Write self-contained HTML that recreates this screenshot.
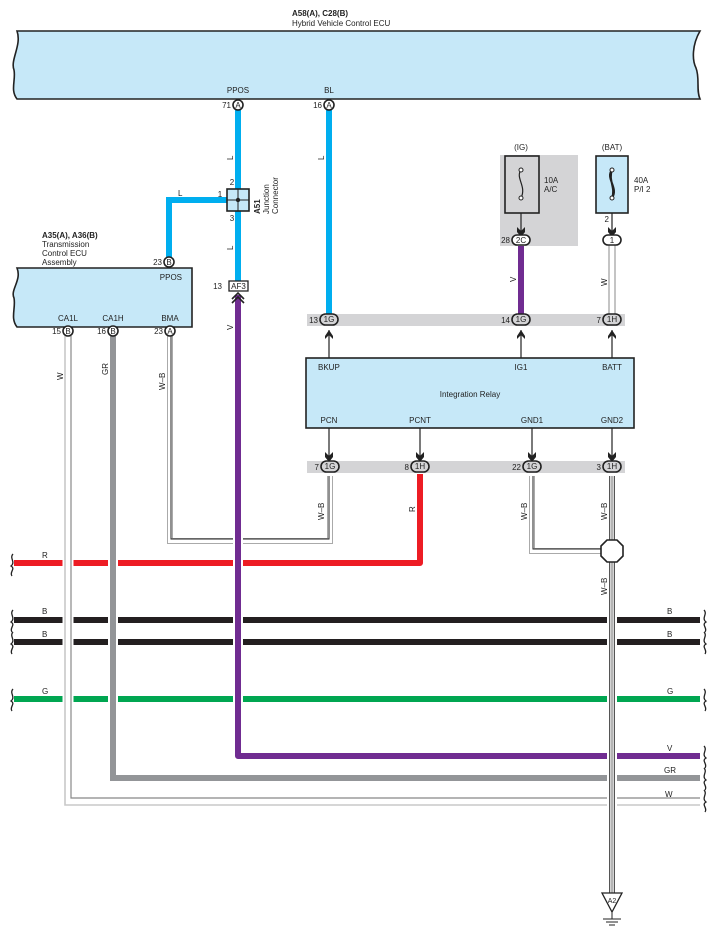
<!DOCTYPE html>
<html><head><meta charset="utf-8"><style>
html,body{margin:0;padding:0;background:#fff}
svg{display:block}
text{font-family:"Liberation Sans",sans-serif;font-size:8px;fill:#222}
.b{font-weight:bold}
</style></head><body>
<svg width="715" height="940" viewBox="0 0 715 940" xmlns="http://www.w3.org/2000/svg">
<!-- top ECU -->
<text x="292" y="16" class="b">A58(A), C28(B)</text>
<text x="292" y="26">Hybrid Vehicle Control ECU</text>
<path d="M17,31 L700,31 C692,45 692,60 696,68 C700,78 696,90 700,99 L17,99 C10,90 16,80 14,70 C10,60 22,45 17,31 Z" fill="#c6e8f8" stroke="#222" stroke-width="1.6"/>
<text x="238" y="93" text-anchor="middle">PPOS</text>
<text x="329" y="93" text-anchor="middle">BL</text>

<!-- transmission ECU -->
<text x="42" y="238" class="b">A35(A), A36(B)</text>
<text x="42" y="247">Transmission</text>
<text x="42" y="256">Control ECU</text>
<text x="42" y="265">Assembly</text>
<path d="M17,268 L192,268 L192,327 L17,327 C10,318 16,308 14,298 C10,290 22,280 17,268 Z" fill="#c6e8f8" stroke="#222" stroke-width="1.6"/>
<text x="182" y="280" text-anchor="end">PPOS</text>
<text x="68" y="321" text-anchor="middle">CA1L</text>
<text x="113" y="321" text-anchor="middle">CA1H</text>
<text x="170" y="321" text-anchor="middle">BMA</text>

<!-- fuses -->
<rect x="500" y="155" width="78" height="91" fill="#d4d4d6"/>
<text x="521" y="150" text-anchor="middle">(IG)</text>
<rect x="505" y="156" width="34" height="57" fill="#d4d4d6" stroke="#222" stroke-width="1.6"/>
<path d="M521,170 C515,178 527,186 521,198" fill="none" stroke="#222" stroke-width="1.2"/>
<circle cx="521" cy="170" r="2" fill="#fff" stroke="#222"/><circle cx="521" cy="198" r="2" fill="#fff" stroke="#222"/>
<text x="544" y="183">10A</text><text x="544" y="192">A/C</text>
<text x="612" y="150" text-anchor="middle">(BAT)</text>
<rect x="596" y="156" width="32" height="57" fill="#c6e8f8" stroke="#222" stroke-width="1.6"/>
<path d="M612,170 C605,178 619,188 612,198 M612,170 C608,180 616,188 612,198" fill="none" stroke="#222" stroke-width="2"/>
<circle cx="612" cy="170" r="2" fill="#fff" stroke="#222"/><circle cx="612" cy="198" r="2" fill="#fff" stroke="#222"/>
<text x="634" y="183">40A</text><text x="634" y="192">P/I 2</text>

<!-- gray connector bars -->
<rect x="307" y="314" width="318" height="12" fill="#d4d4d6"/>
<rect x="307" y="461" width="318" height="12" fill="#d4d4d6"/>

<!-- relay -->
<rect x="306" y="358" width="328" height="70" fill="#c6e8f8" stroke="#222" stroke-width="1.6"/>
<text x="318" y="370">BKUP</text>
<text x="521" y="370" text-anchor="middle">IG1</text>
<text x="612" y="370" text-anchor="middle">BATT</text>
<text x="470" y="397" text-anchor="middle">Integration Relay</text>
<text x="329" y="423" text-anchor="middle">PCN</text>
<text x="420" y="423" text-anchor="middle">PCNT</text>
<text x="532" y="423" text-anchor="middle">GND1</text>
<text x="612" y="423" text-anchor="middle">GND2</text>
<g stroke="#222" stroke-width="1.2">
<line x1="329" y1="330" x2="329" y2="358"/><line x1="521" y1="330" x2="521" y2="358"/><line x1="612" y1="330" x2="612" y2="358"/>
<line x1="329" y1="428" x2="329" y2="458"/><line x1="420" y1="428" x2="420" y2="458"/><line x1="532" y1="428" x2="532" y2="458"/><line x1="612" y1="428" x2="612" y2="458"/>
<line x1="521" y1="213" x2="521" y2="232"/><line x1="612" y1="213" x2="612" y2="232"/>
</g>
<g fill="#222">
<path d="M325,336 L329,330 L333,336 L333,339 L329,335 L325,339Z"/>
<path d="M517,336 L521,330 L525,336 L525,339 L521,335 L517,339Z"/>
<path d="M608,336 L612,330 L616,336 L616,339 L612,335 L608,339Z"/>
<path d="M325,452 L329,456 L333,452 L333,457 L329,462 L325,457Z"/>
<path d="M416,452 L420,456 L424,452 L424,457 L420,462 L416,457Z"/>
<path d="M528,452 L532,456 L536,452 L536,457 L532,462 L528,457Z"/>
<path d="M608,452 L612,456 L616,452 L616,457 L612,462 L608,457Z"/>
<path d="M517,227 L521,231 L525,227 L525,232 L521,237 L517,232Z"/>
<path d="M608,227 L612,231 L616,227 L616,232 L612,237 L608,232Z"/>
</g>

<!-- horizontal wires -->
<g stroke-width="6" fill="none">
<line x1="14" y1="620" x2="700" y2="620" stroke="#231f20"/>
<line x1="14" y1="642" x2="700" y2="642" stroke="#231f20"/>
<line x1="14" y1="699" x2="700" y2="699" stroke="#00a651"/>
<path d="M14,563 L420,563 L420,474" stroke="#ed1c24" stroke-linejoin="round"/>
</g>
<!-- W wire -->
<path d="M68,336 L68,801 L700,801" fill="none" stroke="#fff" stroke-width="11"/>
<path d="M65,336 L65,805 L700,805" fill="none" stroke="#c8c8c8" stroke-width="1.6"/>
<path d="M71,336 L71,798 L700,798" fill="none" stroke="#888" stroke-width="1.2"/>
<!-- GR wire -->
<path d="M113,336 L113,778 L700,778" fill="none" stroke="#fff" stroke-width="10"/>
<path d="M113,336 L113,778 L700,778" fill="none" stroke="#939598" stroke-width="6"/>
<!-- W-B BMA -> PCN -->
<path d="M170,336 L170,541 L330,541 L330,476" fill="none" stroke="#aaa" stroke-width="6"/>
<path d="M170,336 L170,541 L330,541 L330,476" fill="none" stroke="#fff" stroke-width="4"/>
<path d="M171,336 L171,539 L329,539 L329,476" fill="none" stroke="#222" stroke-width="1"/>
<!-- V purple -->
<path d="M238,295 L238,756 L700,756" fill="none" stroke="#fff" stroke-width="10"/>
<path d="M238,295 L238,756 L700,756" fill="none" stroke="#702c91" stroke-width="6" stroke-linejoin="round"/>
<path d="M521,246 L521,314" stroke="#702c91" stroke-width="6"/>
<!-- W BAT -->
<path d="M609,244 L609,314 M615,244 L615,314" stroke="#888" stroke-width="1"/>
<!-- W-B GND1 -->
<path d="M532,476 L532,551 L606,551" fill="none" stroke="#aaa" stroke-width="6"/>
<path d="M532,476 L532,551 L606,551" fill="none" stroke="#fff" stroke-width="4"/>
<path d="M533,476 L533,549 L606,549" fill="none" stroke="#222" stroke-width="1"/>
<!-- W-B GND2 to ground -->
<path d="M612,476 L612,893" fill="none" stroke="#fff" stroke-width="10"/>
<path d="M612,476 L612,893" fill="none" stroke="#555" stroke-width="6"/>
<path d="M612,476 L612,893" fill="none" stroke="#fff" stroke-width="3.5"/>
<path d="M612,476 L612,893" fill="none" stroke="#444" stroke-width="0.8"/>
<!-- splice -->
<path d="M607,540 L617,540 L623,546 L623,556 L617,562 L607,562 L601,556 L601,546Z" fill="#fff" stroke="#222" stroke-width="1.6"/>
<!-- ground -->
<path d="M602,893 L622,893 L612,912Z" fill="#fff" stroke="#222" stroke-width="1.3"/>
<text x="612" y="903" text-anchor="middle" style="font-size:7px">A2</text>
<g stroke="#222" stroke-width="1"><line x1="612" y1="912" x2="612" y2="919"/><line x1="603" y1="919" x2="621" y2="919"/><line x1="606" y1="922" x2="618" y2="922"/><line x1="609" y1="925" x2="615" y2="925"/></g>

<!-- blue wires -->
<path d="M238,110 L238,281 M329,110 L329,314 M227,200 L169,200 L169,257" fill="none" stroke="#00aeef" stroke-width="6"/>
<!-- junction -->
<rect x="227" y="189" width="22" height="22" fill="#c6e8f8" stroke="#222" stroke-width="1.6"/>
<path d="M227,200 L249,200 M238,189 L238,211" stroke="#222" stroke-width="1"/>
<circle cx="238" cy="200" r="2.2" fill="#222"/>
<text x="232" y="185" text-anchor="middle">2</text><text x="220" y="197" text-anchor="middle">1</text><text x="232" y="221" text-anchor="middle">3</text>
<text transform="translate(260,214) rotate(-90)" class="b">A51</text>
<text transform="translate(269,214) rotate(-90)">Junction</text>
<text transform="translate(278,214) rotate(-90)">Connector</text>
<!-- AF3 -->
<rect x="229" y="281" width="19" height="10" fill="#fff" stroke="#222" stroke-width="1.3"/>
<text x="238.5" y="289" text-anchor="middle">AF3</text><text x="222" y="289" text-anchor="end">13</text>
<path d="M232,299 L238,293 L244,299 M232,303 L238,297 L244,303" fill="none" stroke="#222" stroke-width="1.6"/>

<!-- pins -->
<g fill="#fff" stroke="#222" stroke-width="1.6">
<circle cx="238" cy="105" r="5"/><circle cx="329" cy="105" r="5"/>
<circle cx="169" cy="262" r="5"/>
<circle cx="68" cy="331" r="5"/><circle cx="113" cy="331" r="5"/><circle cx="170" cy="331" r="5"/>
<rect x="512" y="235" width="18" height="10" rx="5"/><rect x="603" y="235" width="18" height="10" rx="5"/>
<rect x="320" y="314" width="18" height="11" rx="5.5" fill="#d4d4d6"/><rect x="512" y="314" width="18" height="11" rx="5.5" fill="#d4d4d6"/><rect x="603" y="314" width="18" height="11" rx="5.5" fill="#d4d4d6"/>
<rect x="321" y="461" width="18" height="11" rx="5.5" fill="#d4d4d6"/><rect x="411" y="461" width="18" height="11" rx="5.5" fill="#d4d4d6"/><rect x="523" y="461" width="18" height="11" rx="5.5" fill="#d4d4d6"/><rect x="603" y="461" width="18" height="11" rx="5.5" fill="#d4d4d6"/>
</g>
<g text-anchor="middle" style="font-size:7.5px">
<text x="238" y="108">A</text><text x="329" y="108">A</text><text x="169" y="265">B</text>
<text x="68" y="334">B</text><text x="113" y="334">B</text><text x="170" y="334">A</text>
<text x="521" y="243">2C</text><text x="612" y="243">1</text>
<text x="329" y="322">1G</text><text x="521" y="322">1G</text><text x="612" y="322">1H</text>
<text x="330" y="469">1G</text><text x="420" y="469">1H</text><text x="532" y="469">1G</text><text x="612" y="469">1H</text>
</g>
<g text-anchor="end">
<text x="231" y="108">71</text><text x="322" y="108">16</text><text x="162" y="265">23</text>
<text x="61" y="334">15</text><text x="106" y="334">16</text><text x="163" y="334">23</text>
<text x="510" y="243">28</text><text x="609" y="222">2</text>
<text x="318" y="323">13</text><text x="510" y="323">14</text><text x="601" y="323">7</text>
<text x="319" y="470">7</text><text x="409" y="470">8</text><text x="521" y="470">22</text><text x="601" y="470">3</text>
</g>
<!-- wire labels -->
<g>
<text transform="translate(233,160) rotate(-90)">L</text>
<text transform="translate(324,160) rotate(-90)">L</text>
<text x="178" y="196">L</text>
<text transform="translate(233,250) rotate(-90)">L</text>
<text transform="translate(233,330) rotate(-90)">V</text>
<text transform="translate(516,282) rotate(-90)">V</text>
<text transform="translate(607,286) rotate(-90)">W</text>
<text transform="translate(63,380) rotate(-90)">W</text>
<text transform="translate(108,375) rotate(-90)">GR</text>
<text transform="translate(165,390) rotate(-90)">W–B</text>
<text transform="translate(324,520) rotate(-90)">W–B</text>
<text transform="translate(415,512) rotate(-90)">R</text>
<text transform="translate(527,520) rotate(-90)">W–B</text>
<text transform="translate(607,520) rotate(-90)">W–B</text>
<text transform="translate(607,595) rotate(-90)">W–B</text>
<text x="42" y="558">R</text><text x="42" y="614">B</text><text x="42" y="637">B</text><text x="42" y="694">G</text>
<text x="667" y="614">B</text><text x="667" y="637">B</text><text x="667" y="694">G</text>
<text x="667" y="751">V</text><text x="664" y="773">GR</text><text x="665" y="797">W</text>
</g>
<!-- wavy ends -->
<g fill="none" stroke="#222" stroke-width="1.3">
<path d="M13,554 C9,558 16,562 11,566 C16,569 9,572 12,576"/>
<path d="M13,610 C9,614 16,618 11,622 C16,625 9,628 12,632"/>
<path d="M13,632 C9,636 16,640 11,644 C16,647 9,650 12,654"/>
<path d="M13,689 C9,693 16,697 11,701 C16,704 9,707 12,711"/>
<path d="M704,610 C708,614 701,618 706,622 C701,625 708,628 705,632"/>
<path d="M704,632 C708,636 701,640 706,644 C701,647 708,650 705,654"/>
<path d="M704,689 C708,693 701,697 706,701 C701,704 708,707 705,711"/>
<path d="M704,746 C708,750 701,754 706,758 C701,761 708,764 705,768"/>
<path d="M704,768 C708,772 701,776 706,780 C701,783 708,786 705,790"/>
<path d="M704,790 C708,794 701,798 706,802 C701,805 708,808 705,812"/>
</g>
</svg>
</body></html>
